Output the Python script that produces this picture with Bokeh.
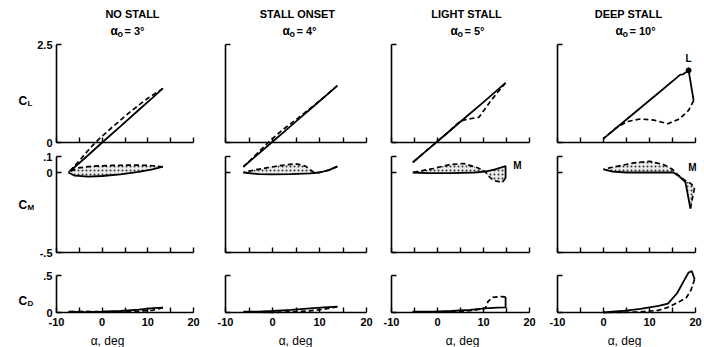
import numpy as np
from bokeh.plotting import figure
from bokeh.layouts import row
from bokeh.models import Range1d, LinearAxis, FixedTicker, Label
from bokeh.embed import file_html
from bokeh.resources import INLINE

# ---------------- text / ticks ----------------
TITLES = ["NO STALL", "STALL ONSET", "LIGHT STALL", "DEEP STALL"]
ALPHA0_TEXT = ["= 3°", "= 4°", "= 5°", "= 10°"]
ROW_NAMES = [("C", "L"), ("C", "M"), ("C", "D")]
X_LABEL = "α, deg"
X_TICKS = [-10, 0, 10, 20]
X_MINOR_TICKS = [-5, 5, 15]
X_TICK_LABELS = {-10: "-10", 0: "0", 10: "10", 20: "20"}
CL_TICKS = [0, 2.5]
CL_TICK_LABELS = {0: "0", 2.5: "2.5"}
CM_TICKS = [-0.5, 0, 0.1]
CM_TICK_LABELS = {-0.5: "-.5", 0: "0", 0.1: ".1"}
CD_TICKS = [0, 0.5]
CD_TICK_LABELS = {0: "0", 0.5: ".5"}

# ---------------- data (S = solid, D = dashed) ----------------
# No stall
NS_CL_S_A = [-7.4, -4, 0, 4, 8, 11, 13.3]
NS_CL_S = [-0.77, -0.42, 0.0, 0.41, 0.83, 1.14, 1.38]
NS_CL_D_A = [13.3, 10, 6, 2, -1.5, -3.5, -5.5, -7.4]
NS_CL_D = [1.38, 1.13, 0.77, 0.37, 0.0, -0.26, -0.53, -0.77]
NS_CM_S_A = [-7.4, -6, -3, 0, 4, 8, 11, 13.3]
NS_CM_S = [0.0, -0.02, -0.026, -0.022, -0.012, 0.004, 0.02, 0.036]
NS_CM_D_A = [13.3, 10, 6, 2, -2, -5.5, -7.4]
NS_CM_D = [0.036, 0.045, 0.046, 0.044, 0.04, 0.028, 0.0]
NS_CD_S_A = [-7.4, -4, 0, 4, 8, 11, 13.3]
NS_CD_S = [0.01, 0.006, 0.01, 0.02, 0.04, 0.06, 0.065]
NS_CD_D_A = [13.3, 11, 8, 4, 0, -4, -7.4]
NS_CD_D = [0.065, 0.03, 0.018, 0.012, 0.012, 0.015, 0.01]

# Stall onset
SO_CL_S_A = [-6.2, -3, 0, 3, 6, 9, 12, 13.8]
SO_CL_S = [-0.62, -0.29, 0.02, 0.33, 0.64, 0.95, 1.26, 1.45]
SO_CL_D_A = [13.8, 9, 5.5, 2, -0.9, -4, -6.2]
SO_CL_D = [1.45, 0.96, 0.63, 0.31, 0.0, -0.37, -0.62]
SO_CM_S_A = [-6.2, -3, 0, 4, 8, 10, 12, 13.8]
SO_CM_S = [0.0, -0.01, -0.012, -0.01, -0.005, 0.0, 0.015, 0.038]
SO_CM_D_A = [13.8, 12, 10, 8.7, 7, 5, 2, -1, -4, -6.2]
SO_CM_D = [0.038, 0.015, 0.0, 0.003, 0.04, 0.054, 0.045, 0.03, 0.015, 0.0]
SO_CD_S_A = [-6.2, -3, 0, 4, 8, 11, 13.8]
SO_CD_S = [0.01, 0.012, 0.02, 0.035, 0.055, 0.07, 0.08]
SO_CD_D_A = [13.8, 11, 8, 4, 0, -3, -6.2]
SO_CD_D = [0.08, 0.045, 0.022, 0.008, 0.0, 0.004, 0.01]

# Light stall
LS_CL_S_A = [-5.4, -2, 2, 6, 10, 14.8]
LS_CL_S = [-0.51, -0.17, 0.23, 0.63, 1.03, 1.52]
LS_CL_D_A = [14.8, 13, 11.5, 9, 6.8, 5, 2, -2, -5.4]
LS_CL_D = [1.52, 1.27, 1.05, 0.645, 0.6, 0.55, 0.23, -0.17, -0.51]
LS_CM_S_A = [-5.4, -2, 3, 8, 10.4, 12.5, 14.8, 14.8]
LS_CM_S = [0.0, -0.004, -0.004, 0.0, 0.006, 0.02, 0.04, -0.035]
LS_CM_D_A = [14.8, 14.1, 12.2, 11, 10.4, 8.7, 5.7, 2.8, -0.9, -5.4]
LS_CM_D = [-0.035, -0.062, -0.05, -0.02, 0.006, 0.03, 0.056, 0.05, 0.025, 0.0]
LS_CD_S_A = [-5.4, -1, 3, 7, 10.4, 13, 14.8, 14.8]
LS_CD_S = [0.01, 0.01, 0.02, 0.035, 0.055, 0.065, 0.07, 0.21]
LS_CD_D_A = [14.8, 13.5, 12, 11, 10.4, 8, 4, 0, -3, -5.4]
LS_CD_D = [0.21, 0.215, 0.205, 0.15, 0.06, 0.03, 0.01, 0.004, 0.006, 0.01]

# Deep stall
DS_CL_S_A = [0, 4, 8, 12, 16, 16.7, 17.3, 18.5, 19.6]
DS_CL_S = [0.1, 0.49, 0.88, 1.27, 1.66, 1.73, 1.74, 1.84, 1.07]
DS_CL_D_A = [19.6, 18.5, 16.5, 14, 11, 8, 5, 2.5, 0]
DS_CL_D = [1.07, 0.82, 0.6, 0.48, 0.57, 0.6, 0.53, 0.35, 0.1]
DS_CM_S_A = [0, 2, 5, 9, 13, 15.2, 16.5, 17.8, 18.9]
DS_CM_S = [0.02, 0.006, 0.0, 0.0, 0.0, 0.0, -0.025, -0.06, -0.225]
DS_CM_D_A = [18.9, 19.8, 19, 17.5, 16, 15, 13, 10, 7, 4, 1.5, 0]
DS_CM_D = [-0.225, -0.094, -0.07, -0.045, -0.01, 0.02, 0.05, 0.07, 0.062, 0.045, 0.03, 0.02]
DS_CD_S_A = [0, 4, 8, 12, 14, 16, 17.5, 18.5, 19.2, 19.8]
DS_CD_S = [0.0, 0.02, 0.05, 0.09, 0.12, 0.26, 0.43, 0.54, 0.56, 0.45]
DS_CD_D_A = [19.8, 19, 18, 16, 14, 12, 8, 4, 0]
DS_CD_D = [0.45, 0.3, 0.2, 0.13, 0.07, 0.03, 0.008, 0.0, 0.0]

COLUMNS = [
    dict(cl=(NS_CL_S_A, NS_CL_S, NS_CL_D_A, NS_CL_D), cm=(NS_CM_S_A, NS_CM_S, NS_CM_D_A, NS_CM_D),
         cd=(NS_CD_S_A, NS_CD_S, NS_CD_D_A, NS_CD_D)),
    dict(cl=(SO_CL_S_A, SO_CL_S, SO_CL_D_A, SO_CL_D), cm=(SO_CM_S_A, SO_CM_S, SO_CM_D_A, SO_CM_D),
         cd=(SO_CD_S_A, SO_CD_S, SO_CD_D_A, SO_CD_D)),
    dict(cl=(LS_CL_S_A, LS_CL_S, LS_CL_D_A, LS_CL_D), cm=(LS_CM_S_A, LS_CM_S, LS_CM_D_A, LS_CM_D),
         cd=(LS_CD_S_A, LS_CD_S, LS_CD_D_A, LS_CD_D)),
    dict(cl=(DS_CL_S_A, DS_CL_S, DS_CL_D_A, DS_CL_D), cm=(DS_CM_S_A, DS_CM_S, DS_CM_D_A, DS_CM_D),
         cd=(DS_CD_S_A, DS_CD_S, DS_CD_D_A, DS_CD_D)),
]

# ---------------- layout constants (screen pixels) ----------------
FONT = "Liberation Sans"
H_FIG = 347
EDGES = [0, 208, 376, 545, 704]          # figure boundaries
A0 = [56, 225, 391, 557]                 # screen x of alpha = -10
A1 = [193, 366, 529, 695]                # screen x of alpha = 20
FT, FB = 0, H_FIG

TITLE_X = [132, 297, 466, 628]
ALPHA_X = [110, 282, 450, 615]
XLABEL_X = [107, 295, 462, 624]


def yspan(v_hi, y_hi, v_lo, y_lo):
    k = (v_hi - v_lo) / (y_lo - y_hi)
    return Range1d(v_lo - (FB - y_lo) * k, v_hi + (y_hi - FT) * k)


def style_axis(ax, labels):
    ax.axis_line_color = "black"
    ax.axis_line_width = 1.6
    ax.major_tick_line_color = "black"
    ax.major_tick_line_width = 1.4
    ax.minor_tick_line_color = "black"
    ax.minor_tick_line_width = 1.4
    ax.major_tick_in = 5
    ax.major_tick_out = 0
    ax.minor_tick_in = 5
    ax.minor_tick_out = 0
    ax.major_label_standoff = 4
    ax.major_label_text_font = FONT
    ax.major_label_text_font_size = "11px"
    ax.major_label_text_font_style = "bold"
    ax.major_label_text_color = "black"
    if labels is None:
        ax.major_label_text_color = None
    else:
        ax.major_label_overrides = labels


def make_column(c):
    left_s, right_s = EDGES[c], EDGES[c + 1]
    pxdeg = (A1[c] - A0[c]) / 30.0
    xr = Range1d(-10 - (A0[c] - left_s) / pxdeg, 20 + (right_s - A1[c]) / pxdeg)
    yr = yspan(0.5, 275, 0, 312)
    p = figure(width=right_s - left_s, height=H_FIG, x_range=xr, y_range=yr,
               x_axis_location=None, y_axis_location=None, toolbar_location=None,
               output_backend="svg", min_border_left=0, min_border_right=0,
               min_border_top=0, min_border_bottom=0)
    p.extra_y_ranges = {"cl": yspan(2.5, 44, 0, 142), "cm": yspan(0.1, 156, -0.5, 252)}
    p.xgrid.visible = False
    p.ygrid.visible = False
    p.outline_line_color = None
    p.background_fill_color = "white"
    p.border_fill_color = "white"

    def at(sx, sy):
        x = -10 + (sx - A0[c]) / pxdeg
        y = yr.start + (FB - sy) / (FB - FT) * (yr.end - yr.start)
        return x, y

    def text(sx, sy, t, size, style="bold", align="left", baseline="alphabetic"):
        x, y = at(sx, sy)
        p.add_layout(Label(x=x, y=y, text=t, text_font=FONT, text_font_size=f"{size}px",
                           text_font_style=style, text_align=align, text_baseline=baseline,
                           text_color="black"))

    # x axes (CL row at CL=0, CM row at CM=-0.5, CD row at CD=0 with labels)
    for yname, loc, labels in (("cl", 0, None), ("cm", -0.5, None), ("default", 0, X_TICK_LABELS)):
        ax = LinearAxis(y_range_name=yname, fixed_location=loc, bounds=(-10, 20),
                        ticker=FixedTicker(ticks=X_TICKS, minor_ticks=X_MINOR_TICKS))
        style_axis(ax, labels)
        if labels is not None:
            ax.major_label_standoff = 5
        p.add_layout(ax, "below")

    # y axes at alpha = -10
    for yname, ticks, labels, bnds in (("cl", CL_TICKS, CL_TICK_LABELS, (0, 2.5)),
                                        ("cm", CM_TICKS, CM_TICK_LABELS, (-0.5, 0.1)),
                                        ("default", CD_TICKS, CD_TICK_LABELS, (0, 0.5))):
        ay = LinearAxis(y_range_name=yname, fixed_location=-10, bounds=bnds,
                        ticker=FixedTicker(ticks=ticks, minor_ticks=[]))
        style_axis(ay, labels if c == 0 else None)
        p.add_layout(ay, "left")

    d = COLUMNS[c]
    for key, yname in (("cl", "cl"), ("cm", "cm"), ("cd", "default")):
        a_s, v_s, a_d, v_d = d[key]
        if key == "cm":
            p.patch(list(a_s) + list(a_d), list(v_s) + list(v_d), y_range_name=yname,
                    fill_color="#ebebeb", hatch_pattern="dot", hatch_color="#333333",
                    hatch_scale=4, hatch_weight=1.2, line_color=None)
        p.line(a_s, v_s, y_range_name=yname, line_color="black", line_width=1.8)
        p.line(a_d, v_d, y_range_name=yname, line_color="black", line_width=1.7, line_dash="5 3")

    # titles and labels
    text(TITLE_X[c], 13.5, TITLES[c], 11, align="center")
    text(ALPHA_X[c], 30.5, "α", 12)
    text(ALPHA_X[c] + 7, 33.5, "o", 9)
    text(ALPHA_X[c] + 14, 30.5, ALPHA0_TEXT[c], 11)
    text(XLABEL_X[c], 340, X_LABEL, 12, style="normal", align="center", baseline="middle")

    if c == 0:
        for (big, sub), yb in zip(ROW_NAMES, (100.5, 204.5, 300.5)):
            text(18, yb, big, 12)
            text(27, yb + 2.5, sub, 8)
    if c == 2:
        text(517, 165, "M", 10, align="center", baseline="middle")
    if c == 3:
        text(692, 167, "M", 10, align="center", baseline="middle")
        text(688, 58, "L", 10, align="center", baseline="middle")
        i = int(np.argmax(DS_CL_S))
        p.scatter([DS_CL_S_A[i]], [DS_CL_S[i]], y_range_name="cl", size=5, color="black")
    return p


figs = [make_column(c) for c in range(4)]
layout = row(*figs)
open("out.html", "w").write(file_html(layout, INLINE))
